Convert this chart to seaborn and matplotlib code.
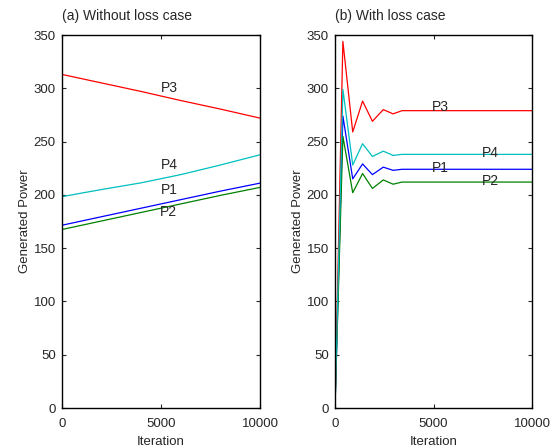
import matplotlib
matplotlib.use("Agg")
import matplotlib.pyplot as plt
import seaborn as sns
import pandas as pd

sns.set_style("ticks")
plt.rcParams['font.family'] = ['Liberation Sans', 'DejaVu Sans']

# (a) Without loss case
iter_a = [0, 1000, 2000, 4000, 6000, 8000, 10000]
a_P1 = [171.5, 175.5, 179.5, 187.5, 195.5, 203.5, 211]
a_P2 = [167.5, 171.5, 175.5, 183.5, 191.5, 199.5, 207]
a_P3 = [313, 309, 305, 297, 288.5, 280.5, 272]
a_P4 = [198.3, 201.7, 205, 211.3, 219, 228, 237.6]

# (b) With loss case
iter_b = [0, 400, 900, 1400, 1900, 2450, 2950, 3400, 10000]
b_P1 = [0, 274, 215, 229, 219, 226, 223, 224, 224]
b_P2 = [0, 255, 202, 220, 206, 214, 210, 212, 212]
b_P3 = [0, 344, 259, 288, 269, 280, 276, 279, 279]
b_P4 = [0, 299, 228, 248, 236, 241, 237, 238, 238]

series_names = ["P1", "P2", "P3", "P4"]
colors = {"P1": "#0000ff", "P2": "#008000", "P3": "#ff0000", "P4": "#00bfbf"}

label_pos_a = {"P3": (5400, 300), "P4": (5400, 228), "P1": (5400, 205), "P2": (5400, 184)}
label_pos_b = {"P3": (5350, 282), "P4": (7900, 239), "P1": (5350, 225), "P2": (7900, 213)}

def make_df(it, vals):
    rows = []
    for name, v in zip(series_names, vals):
        for x, y in zip(it, v):
            rows.append({"Iteration": x, "Power": y, "Series": name})
    return pd.DataFrame(rows)

df_a = make_df(iter_a, [a_P1, a_P2, a_P3, a_P4])
df_b = make_df(iter_b, [b_P1, b_P2, b_P3, b_P4])

fig = plt.figure(figsize=(5.57, 4.48), dpi=100)
ax1 = fig.add_axes([62/557, 1-408/448, 198/557, 373/448])
ax2 = fig.add_axes([335/557, 1-408/448, 197/557, 373/448])

for ax, df, title, lp in [(ax1, df_a, "(a) Without loss case", label_pos_a),
                          (ax2, df_b, "(b) With loss case", label_pos_b)]:
    sns.lineplot(data=df, x="Iteration", y="Power", hue="Series", palette=colors,
                 ax=ax, legend=False, linewidth=0.9, estimator=None, sort=False)
    ax.set_xlim(0, 10000)
    ax.set_ylim(0, 350)
    ax.set_xticks([0, 5000, 10000])
    ax.set_yticks(range(0, 351, 50))
    ax.tick_params(direction="in", top=True, right=True, labelsize=9.5, length=3, width=0.8)
    ax.tick_params(axis="x", pad=7)
    ax.tick_params(axis="y", pad=4.5)
    for s in ax.spines.values():
        s.set_visible(True)
        s.set_linewidth(1.0)
        s.set_color("black")
    ax.set_xlabel("Iteration", fontsize=9.5, labelpad=4.5)
    ax.set_ylabel("Generated Power", fontsize=9.5, labelpad=2)
    ax.set_title(title, loc="left", fontsize=10, pad=11)
    for name, (x, y) in lp.items():
        ax.text(x, y, name, fontsize=10, ha="center", va="center")

fig.savefig("out.png", dpi=100)
